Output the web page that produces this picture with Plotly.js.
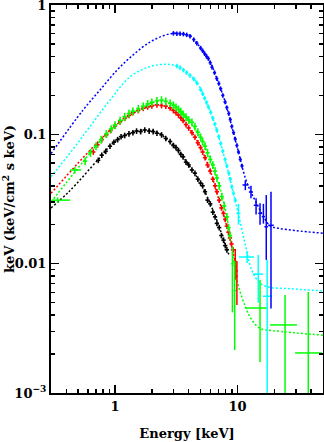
<!DOCTYPE html>
<html><head><meta charset="utf-8">
<script src="https://cdn.plot.ly/plotly-3.0.1.min.js"></script>
<style>html,body{margin:0;padding:0;background:#fff}#chart{width:324px;height:442px}</style>
</head><body><div id="chart"></div>
<script>
// ---- model curves ----
const blueModelX = [0.3, 0.548, 0.754, 1.04, 1.4, 1.93, 2.5, 3.0, 3.62, 4.1, 4.66, 5.79, 6.78, 7.93, 9.0, 10.2, 11.6, 12.7, 14.4, 16.3, 18.5, 21.6, 30, 50];
const blueModelY = [0.071, 0.154, 0.22, 0.314, 0.41, 0.517, 0.58, 0.604, 0.597, 0.579, 0.506, 0.387, 0.271, 0.179, 0.115, 0.073, 0.046, 0.037, 0.029, 0.0232, 0.0196, 0.0188, 0.018, 0.0172];
const cyanModelX = [0.3, 0.45, 0.625, 0.91, 1.33, 1.93, 2.65, 3.2, 3.62, 4.66, 5.79, 6.78, 7.93, 9.0, 10.2, 11.6, 13.1, 15.3, 18.5, 27, 50];
const cyanModelY = [0.047, 0.076, 0.115, 0.184, 0.279, 0.334, 0.348, 0.338, 0.314, 0.252, 0.164, 0.108, 0.0633, 0.0394, 0.024, 0.014, 0.0089, 0.00705, 0.00656, 0.0064, 0.00615];
const greenModelX = [0.3, 0.5, 0.75, 1.0, 1.5, 2.0, 2.4, 3.0, 4.0, 5.0, 6.0, 7.0, 8.0, 8.7, 9.9, 11.6, 13.1, 15.3, 19.8, 50];
const greenModelY = [0.030, 0.055, 0.088, 0.116, 0.152, 0.175, 0.181, 0.168, 0.128, 0.094, 0.064, 0.042, 0.026, 0.0165, 0.0075, 0.00465, 0.00367, 0.00316, 0.00303, 0.0028];
const redModelX = [0.3, 0.5, 0.75, 1.0, 1.5, 2.0, 2.3, 3.0, 4.0, 5.0, 6.0, 7.0, 8.0, 9.0, 10.0];
const redModelY = [0.035, 0.060, 0.090, 0.116, 0.150, 0.166, 0.169, 0.153, 0.112, 0.079, 0.052, 0.032, 0.021, 0.0135, 0.0085];
const blackModelX = [0.3, 0.42, 0.73, 1.0, 1.5, 1.8, 2.2, 3.0, 4.0, 5.0, 6.0, 7.0, 8.0, 8.5];
const blackModelY = [0.027, 0.036, 0.064, 0.088, 0.106, 0.108, 0.104, 0.082, 0.058, 0.042, 0.029, 0.020, 0.0137, 0.0118];

// ---- dense data ----
const blackX = [0.73,0.78,0.84,0.91,0.98,1.05,1.12,1.2,1.3,1.4,1.5,1.62,1.75,1.9,2.05,2.2,2.4,2.6,2.82,3.0,3.15,3.3,3.45,3.6,3.8,4.0,4.25,4.5,4.75,5.0,5.2,5.44,5.7,6.0,6.3,6.57,6.8,7.1,7.4,7.7,7.95,8.2];
const blackY = [0.063,0.069,0.074,0.081,0.087,0.091,0.096,0.098,0.101,0.103,0.106,0.105,0.108,0.106,0.105,0.102,0.099,0.093,0.088,0.082,0.079,0.075,0.070,0.067,0.061,0.058,0.053,0.050,0.045,0.042,0.040,0.036,0.031,0.029,0.025,0.023,0.0205,0.019,0.0165,0.0152,0.0138,0.0128];
const redX = [0.665,0.72,0.78,0.85,0.92,1.0,1.1,1.2,1.3,1.4,1.55,1.7,1.85,2.0,2.2,2.4,2.6,2.82,3.0,3.15,3.3,3.45,3.6,3.8,4.0,4.25,4.5,4.75,5.0,5.2,5.44,5.7,6.0,6.3,6.57,6.8,7.1,7.4,7.7,7.95,8.2,8.45,8.7,8.95,9.2];
const redY = [0.073,0.083,0.091,0.099,0.107,0.116,0.125,0.133,0.140,0.147,0.153,0.159,0.163,0.166,0.169,0.167,0.165,0.160,0.153,0.147,0.141,0.134,0.128,0.119,0.112,0.103,0.095,0.086,0.079,0.073,0.066,0.058,0.052,0.045,0.040,0.036,0.031,0.027,0.0245,0.022,0.0195,0.0175,0.0158,0.0142,0.0128];
const greenX = [0.57,0.63,0.70,0.77,0.85,0.93,1.0,1.1,1.2,1.3,1.4,1.55,1.7,1.85,2.0,2.2,2.4,2.6,2.82,3.0,3.15,3.3,3.45,3.6,3.8,4.0,4.25,4.5,4.75,5.0,5.2,5.44,5.7,6.0,6.3,6.57,6.8,7.1,7.45,7.8,8.2,8.45,8.7];
const greenY = [0.062,0.072,0.081,0.091,0.101,0.110,0.118,0.128,0.137,0.145,0.151,0.158,0.165,0.172,0.177,0.182,0.184,0.180,0.174,0.168,0.162,0.156,0.150,0.143,0.136,0.129,0.124,0.115,0.104,0.095,0.088,0.081,0.072,0.064,0.058,0.052,0.046,0.040,0.033,0.028,0.023,0.019,0.0165];
const cyanX = [3.2,3.4,3.62,3.85,4.1,4.4,4.66,5.0,5.2,5.4,5.6,5.79,6.05,6.3,6.55,6.78,7.05,7.3,7.6,7.93,8.2,8.5,8.75,9.0,9.3,9.6];
const cyanY = [0.338,0.328,0.314,0.30,0.285,0.268,0.250,0.222,0.206,0.190,0.176,0.163,0.148,0.133,0.120,0.108,0.096,0.085,0.074,0.064,0.057,0.050,0.045,0.0394,0.035,0.031];
const blueX = [3.0,3.2,3.4,3.62,3.85,4.1,4.4,4.66,5.0,5.2,5.4,5.6,5.79,6.0,6.2,6.5,6.78,7.05,7.3,7.6,7.93,8.2,8.5,8.75,9.0,9.3,9.6,9.9,10.2,10.55,10.9];
const blueY = [0.604,0.601,0.599,0.596,0.588,0.575,0.54,0.506,0.465,0.443,0.42,0.40,0.385,0.358,0.33,0.30,0.27,0.247,0.225,0.20,0.178,0.161,0.145,0.130,0.115,0.103,0.092,0.082,0.073,0.064,0.057];

// ---- sparse data with explicit bounds ----
const blueTailX = [11.6, 12.9, 14.2, 15.3, 16.3, 17.2, 18.8];
const blueTailY = [0.0406, 0.0358, 0.0283, 0.0245, 0.0231, 0.0193, 0.0198];
const blueTailYlo = [0.037, 0.032, 0.024, 0.020, 0.0204, 0.0107, 0.0045];
const blueTailYhi = [0.044, 0.040, 0.032, 0.0293, 0.029, 0.0339, 0.036];
const blueTailXlo = [11.0, 12.4, 13.6, 14.8, 15.8, 16.6, 17.8];
const blueTailXhi = [12.3, 13.4, 14.8, 15.8, 16.8, 17.8, 19.8];
const cyanTailX = [10.2, 12.0, 14.8, 17.5];
const cyanTailY = [0.0245, 0.01126, 0.0083, 0.0056];
const cyanTailYlo = [0.020, 0.0101, 0.005, 0.0005];
const cyanTailYhi = [0.029, 0.0125, 0.0117, 0.0107];
const cyanTailXlo = [9.8, 10.3, 13.4, 16.2];
const cyanTailXhi = [10.6, 13.7, 16.2, 19.2];
const greenTailX = [0.34, 0.47, 9.1, 9.5, 15.3, 24.5, 37.9];
const greenTailY = [0.031, 0.053, 0.0100, 0.0062, 0.00454, 0.00336, 0.00204];
const greenTailYlo = [0.0295, 0.050, 0.0042, 0.00215, 0.00174, 0.0005, 0.0005];
const greenTailYhi = [0.0325, 0.056, 0.0135, 0.0105, 0.00747, 0.00573, 0.00604];
const greenTailXlo = [0.305, 0.43, 8.9, 9.3, 11.6, 18.5, 29.6];
const greenTailXhi = [0.43, 0.53, 9.3, 9.7, 17.5, 30.6, 49];
const redTailX = [9.6, 9.9];
const redTailY = [0.0105, 0.0080];
const redTailYlo = [0.0075, 0.0048];
const redTailYhi = [0.013, 0.0105];
const redTailXlo = [9.4, 9.7];
const redTailXhi = [9.8, 10.1];

// ---- tick label overrides ----
const yLabelAlias = {'0.001': '10<sup>−3</sup>'};

const COL = {black: '#000000', red: '#ff0000', green: '#00ff00', cyan: '#00ffff', blue: '#0000ff'};

function model(x, y, c) {
  return {x: x, y: y, mode: 'lines', line: {color: c, width: 1.5, dash: '2px,2px', shape: 'spline'}, hoverinfo: 'skip'};
}
function dense(x, y, c, pe, px) {
  return {x: x, y: y, mode: 'markers', marker: {color: c, size: 1},
    error_y: {type: 'percent', value: pe, color: c, thickness: 1.6, width: 0},
    error_x: {type: 'percent', value: px, color: c, thickness: 1.6, width: 0}};
}
function sparse(x, y, xlo, xhi, ylo, yhi, c) {
  return {x: x, y: y, mode: 'markers', marker: {color: c, size: 1},
    error_y: {type: 'data', symmetric: false, array: y.map((v, i) => yhi[i] - v), arrayminus: y.map((v, i) => v - ylo[i]), color: c, thickness: 1.5, width: 0},
    error_x: {type: 'data', symmetric: false, array: x.map((v, i) => xhi[i] - v), arrayminus: x.map((v, i) => v - xlo[i]), color: c, thickness: 1.5, width: 0}};
}

const traces = [
  model(blackModelX, blackModelY, COL.black),
  model(redModelX, redModelY, COL.red),
  model(greenModelX, greenModelY, COL.green),
  model(cyanModelX, cyanModelY, COL.cyan),
  model(blueModelX, blueModelY, COL.blue),
  dense(blackX, blackY, COL.black, 5, 4),
  dense(redX, redY, COL.red, 5, 4),
  dense(greenX, greenY, COL.green, 7, 4),
  dense(cyanX, cyanY, COL.cyan, 4, 3),
  dense(blueX, blueY, COL.blue, 4, 3),
  sparse(redTailX, redTailY, redTailXlo, redTailXhi, redTailYlo, redTailYhi, COL.red),
  sparse(greenTailX, greenTailY, greenTailXlo, greenTailXhi, greenTailYlo, greenTailYhi, COL.green),
  sparse(cyanTailX, cyanTailY, cyanTailXlo, cyanTailXhi, cyanTailYlo, cyanTailYhi, COL.cyan),
  sparse(blueTailX, blueTailY, blueTailXlo, blueTailXhi, blueTailYlo, blueTailYhi, COL.blue)
];

const FONT = {family: '"DejaVu Serif", "Liberation Serif", serif', size: 13, color: '#000', weight: 'bold'};

const minorTicks = {dtick: 'D1', ticks: 'inside', ticklen: 4, tickwidth: 1.5, tickcolor: '#000', showgrid: false};

const axisCommon = {
  type: 'log', showgrid: false, zeroline: false, showline: true, linecolor: '#000', linewidth: 2,
  mirror: 'ticks', ticks: 'inside', ticklen: 8, tickwidth: 1.5, tickcolor: '#000',
  tickfont: FONT, tickmode: 'linear', tick0: 0, dtick: 1, minor: minorTicks,
  ticklabeloverflow: 'allow'
};

const layout = {
  width: 324, height: 442,
  margin: {l: 51, r: 1, t: 5, b: 49},
  showlegend: false,
  font: FONT,
  xaxis: Object.assign({}, axisCommon, {
    range: [Math.log10(0.3), Math.log10(50)],
    title: {text: 'Energy [keV]', font: FONT, standoff: 16}
  }),
  yaxis: Object.assign({}, axisCommon, {
    range: [-3, 0],
    labelalias: yLabelAlias,
    title: {text: 'keV (keV/cm<sup>2</sup> s keV)', font: FONT, standoff: 4}
  })
};

Plotly.newPlot('chart', traces, layout, {staticPlot: true, displayModeBar: false});
</script></body></html>
